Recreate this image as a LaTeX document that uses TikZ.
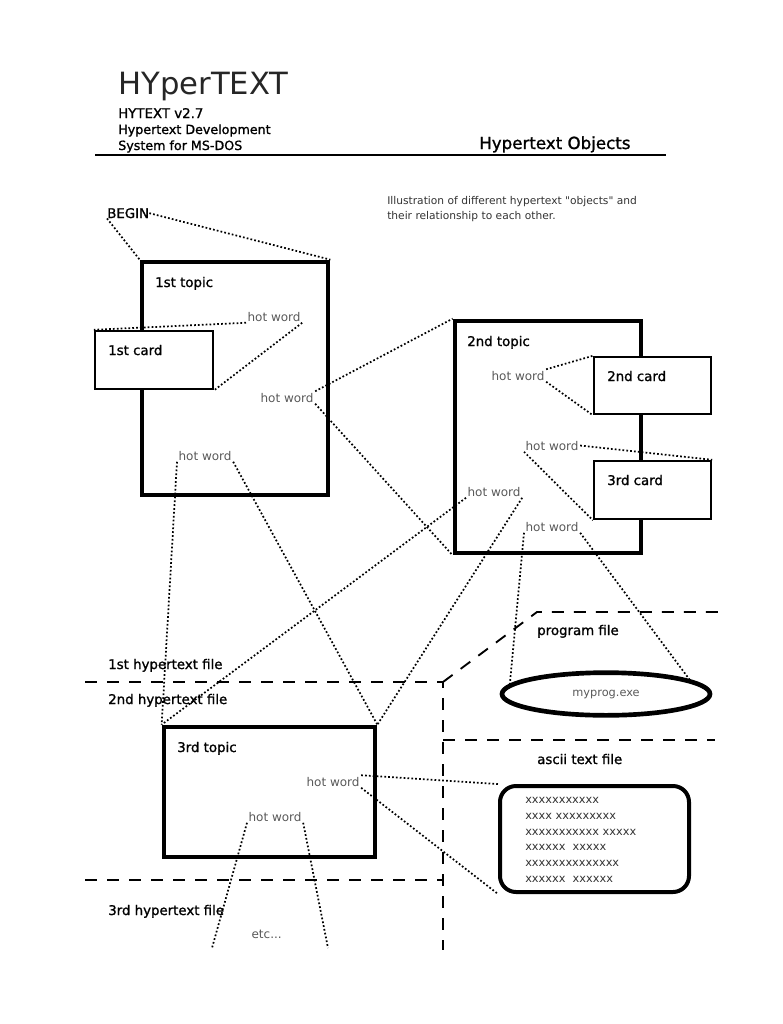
\documentclass[tikz,border=0pt]{standalone}
\usepackage{fontspec}
\setmainfont{DejaVu Sans}
\newfontfamily\lblfont{DejaVu Sans}[RawFeature={embolden=1.2}]
\newfontfamily\descfont{DejaVu Sans}[Ligatures=TeXOff]
\usetikzlibrary{fit, shapes.geometric}

\begin{document}
\begin{tikzpicture}[x=0.75pt, y=-0.75pt,
  lbl/.style={anchor=base west, inner sep=0, font=\lblfont\fontsize{10}{12}\selectfont},
  hot/.style={anchor=base west, inner sep=1pt, text=black!65, font=\fontsize{9}{11}\selectfont},
  topic/.style={draw, line width=3.5pt, inner sep=0},
  card/.style={draw, fill=white, line width=1.8pt, inner sep=0},
  link/.style={line width=1.3pt, dash pattern=on 1.3pt off 1.6pt},
  filesep/.style={line width=1.4pt, dash pattern=on 9pt off 7.5pt}]
\useasboundingbox (0,0) rectangle (782,1024);
\node[lbl, font=\fontsize{23}{28}\selectfont, text=black!85] (title) at (118,94) {HYperTEXT};
\node[lbl] (ver) at (118,118) {HYTEXT v2.7};
\node[lbl, font=\lblfont\fontsize{9.5}{12}\selectfont] (dev) at (118,134) {Hypertext Development};
\node[lbl, font=\lblfont\fontsize{9.5}{12}\selectfont] (sys) at (118,150) {System for MS-DOS};
\node[lbl, font=\lblfont\fontsize{12.5}{15}\selectfont] (objs) at (479,149) {Hypertext Objects};
\draw [line width=1.2pt] (95,155) -- (666,155);
\node[lbl, font=\descfont\fontsize{8}{10}\selectfont, text=black!80] (desc1) at (387,204) {Illustration of different hypertext "objects" and};
\node[lbl, font=\descfont\fontsize{8}{10}\selectfont, text=black!80] (desc2) at (387,219) {their relationship to each other.};
\draw [filesep] (85,682) -- (443,682) -- (443,950);
\draw [filesep] (443,682) -- (537,612) -- (722,612);
\draw [filesep] (443,740) -- (715,740);
\draw [filesep] (85,880) -- (443,880);
\node[topic, fit={(142,262) (328,495)}] (t1) {};
\node[card, fit={(95,331) (213,389)}] (c1) {};
\node[topic, fit={(455,321) (641,553)}] (t2) {};
\node[card, fit={(594,357) (711,414)}] (c2) {};
\node[card, fit={(594,461) (711,519)}] (c3) {};
\node[topic, fit={(164,727) (375,857)}] (t3) {};
\node[draw, ellipse, line width=3.5pt, minimum width=156pt, minimum height=32pt, text=black!65, font=\fontsize{8.5}{10}\selectfont] (prog) at (606,694) {myprog.exe};
\node[draw, line width=3pt, rounded corners=12pt, inner sep=0, fit={(500,786) (689,892)}] (ascii) {};
\node[anchor=north west, inner sep=0, align=left, text=black!80, font=\fontsize{8.5}{11.85}\selectfont] (asciitext) at (525,797) {xxxxxxxxxxx\\xxxx xxxxxxxxx\\xxxxxxxxxxx xxxxx\\xxxxxx~~xxxxx\\xxxxxxxxxxxxxx\\xxxxxx~~xxxxxx};
\node[lbl] (begin) at (107,218) {BEGIN};
\node[lbl] (t1l) at (155,287) {1st topic};
\node[lbl] (c1l) at (108,355) {1st card};
\node[lbl] (t2l) at (467,346) {2nd topic};
\node[lbl] (c2l) at (607,381) {2nd card};
\node[lbl] (c3l) at (607,485) {3rd card};
\node[lbl] (t3l) at (177,752) {3rd topic};
\node[lbl] (f1) at (108,669) {1st hypertext file};
\node[lbl] (f2) at (108,704) {2nd hypertext file};
\node[lbl] (f3) at (108,915) {3rd hypertext file};
\node[lbl] (pf) at (537,635) {program file};
\node[lbl] (af) at (537,764) {ascii text file};
\node[hot] (etc) at (250,938) {etc...};
\node[hot] (hw1) at (246,321) {hot word};
\node[hot] (hw2) at (259,402) {hot word};
\node[hot] (hw3) at (177,460) {hot word};
\node[hot] (hwa) at (490,380) {hot word};
\node[hot] (hwb) at (524,450) {hot word};
\node[hot] (hwc) at (466,496) {hot word};
\node[hot] (hwd) at (524,531) {hot word};
\node[hot] (hwe) at (305,786) {hot word};
\node[hot] (hwf) at (247,821) {hot word};
\coordinate (e1) at (212,948);
\coordinate (e2) at (328,948);
\draw [link] (begin.south west) -- (t1.north west);
\draw [link] (begin.east) -- (t1.north east);
\draw [link] (hw1.south west) -- (c1.north west);
\draw [link] (hw1.south east) -- (c1.south east);
\draw [link] (hw2.north east) -- (t2.north west);
\draw [link] (hw2.south east) -- (t2.south west);
\draw [link] (hw3.south west) -- (t3.north west);
\draw [link] (hw3.south east) -- (t3.north east);
\draw [link] (hwa.north east) -- (c2.north west);
\draw [link] (hwa.south east) -- (c2.south west);
\draw [link] (hwb.east) -- (c3.north east);
\draw [link] (hwb.south west) -- (c3.south west);
\draw [link] (hwc.south west) -- (t3.north west);
\draw [link] (hwc.south east) -- (t3.north east);
\draw [link] (hwd.south west) -- (prog.174);
\draw [link] (hwd.south east) -- (prog.10);
\draw [link] (hwe.north east) -- (ascii.north west);
\draw [link] (hwe.south east) -- (ascii.south west);
\draw [link] (hwf.south west) -- (e1);
\draw [link] (hwf.south east) -- (e2);
\end{tikzpicture}
\end{document}
